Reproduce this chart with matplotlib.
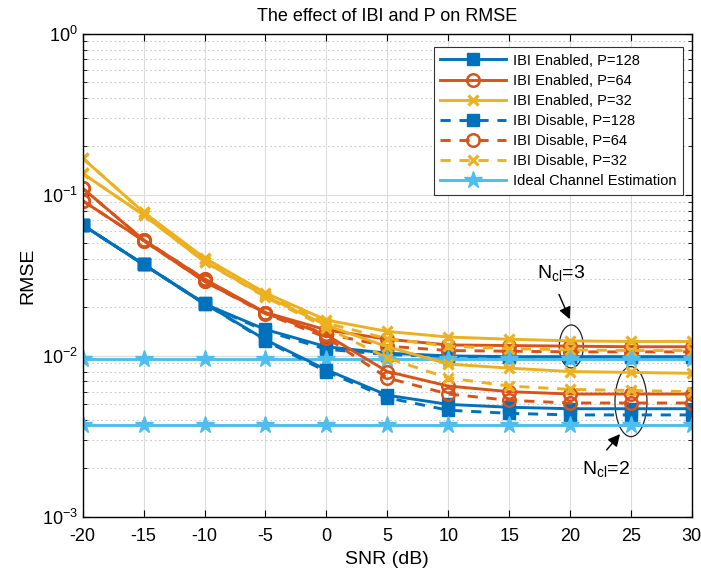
import numpy as np
import matplotlib.pyplot as plt
from matplotlib.patches import Ellipse

plt.rcParams['font.family'] = ['Liberation Sans', 'DejaVu Sans']
plt.rcParams['mathtext.fontset'] = 'custom'
plt.rcParams['mathtext.rm'] = 'Liberation Sans'
plt.rcParams['mathtext.it'] = 'Liberation Sans:italic'

snr = [-20, -15, -10, -5, 0, 5, 10, 15, 20, 25, 30]

# N_cl = 3
en128_3 = [0.065, 0.037, 0.021, 0.0146, 0.0114, 0.0104, 0.0100, 0.0099, 0.0099, 0.0099, 0.0099]
en64_3 = [0.110, 0.0525, 0.030, 0.0186, 0.0145, 0.0127, 0.0117, 0.0116, 0.0115, 0.0114, 0.0114]
en32_3 = [0.169, 0.078, 0.0406, 0.0246, 0.0167, 0.0142, 0.0131, 0.0127, 0.0124, 0.0123, 0.0123]
dis128_3 = [0.065, 0.037, 0.021, 0.0143, 0.0110, 0.0102, 0.0099, 0.0098, 0.0098, 0.0098, 0.0098]
dis64_3 = [0.110, 0.0525, 0.030, 0.0184, 0.0137, 0.0115, 0.0108, 0.0107, 0.0106, 0.0106, 0.0106]
dis32_3 = [0.169, 0.078, 0.0400, 0.0240, 0.0160, 0.0128, 0.0115, 0.0111, 0.0109, 0.0108, 0.0108]
ideal_3 = [0.0096] * 11

# N_cl = 2
en128_2 = [0.065, 0.037, 0.0212, 0.0126, 0.0082, 0.0057, 0.0050, 0.0048, 0.0047, 0.0047, 0.0047]
en64_2 = [0.092, 0.052, 0.029, 0.0185, 0.0135, 0.0080, 0.0065, 0.0060, 0.0058, 0.0058, 0.0058]
en32_2 = [0.136, 0.075, 0.0385, 0.0235, 0.0155, 0.0114, 0.0089, 0.0084, 0.0080, 0.0079, 0.0078]
dis128_2 = [0.065, 0.037, 0.0212, 0.0124, 0.0080, 0.0055, 0.0046, 0.0044, 0.0043, 0.0043, 0.0043]
dis64_2 = [0.092, 0.052, 0.029, 0.0183, 0.0130, 0.0073, 0.0058, 0.0053, 0.0051, 0.0051, 0.0051]
dis32_2 = [0.136, 0.075, 0.0385, 0.0232, 0.0150, 0.0097, 0.0073, 0.0065, 0.0062, 0.0061, 0.0060]
ideal_2 = [0.0037] * 11

labels = ['IBI Enabled, P=128', 'IBI Enabled, P=64', 'IBI Enabled, P=32',
          'IBI Disable, P=128', 'IBI Disable, P=64', 'IBI Disable, P=32',
          'Ideal Channel Estimation']

blue = '#0072BD'
orange = '#D95319'
yellow = '#EDB120'
cyan = '#4DBEEE'
dash = (0, (3.5, 3))

styles = [
    dict(color=blue, ls='-', marker='s', ms=8, mfc=blue),
    dict(color=orange, ls='-', marker='o', ms=9, mfc='none', mew=1.8),
    dict(color=yellow, ls='-', marker='x', ms=7, mew=2.3),
    dict(color=blue, ls=dash, marker='s', ms=8, mfc=blue),
    dict(color=orange, ls=dash, marker='o', ms=9, mfc='none', mew=1.8),
    dict(color=yellow, ls=dash, marker='x', ms=7, mew=2.3),
    dict(color=cyan, ls='-', marker='*', ms=13, mfc=cyan),
]

fig = plt.figure(figsize=(7.01, 5.75), dpi=100)
ax = fig.add_axes([0.118, 0.101, 0.869, 0.840])

set3 = [en128_3, en64_3, en32_3, dis128_3, dis64_3, dis32_3, ideal_3]
set2 = [en128_2, en64_2, en32_2, dis128_2, dis64_2, dis32_2, ideal_2]

for vals, lab, st in zip(set3, labels, styles):
    ax.plot(snr, vals, lw=2.1, label=lab, **st)
for vals, st in zip(set2, styles):
    ax.plot(snr, vals, lw=2.1, **st)

ax.set_yscale('log')
ax.set_xlim(-20, 30)
ax.set_ylim(1e-3, 1)
ax.set_xticks(snr)
ax.set_xticklabels([str(s) for s in snr])

ax.grid(True, which='major', color='#dcdcdc', lw=0.8, ls='-')
ax.grid(True, which='minor', axis='y', color='#c8c8c8', lw=0.8, ls=(0, (1.5, 2.5)))
ax.set_axisbelow(True)
ax.tick_params(which='both', direction='in', top=True, right=True, labelsize=13)
ax.tick_params(axis='x', pad=8)
ax.tick_params(which='minor', length=3)
ax.tick_params(which='major', length=5)
for sp in ax.spines.values():
    sp.set_linewidth(1.0)

ax.set_xlabel('SNR (dB)', fontsize=14, labelpad=4)
ax.set_ylabel('RMSE', fontsize=14)
ax.set_title('The effect of IBI and P on RMSE', fontsize=13, pad=9)

leg = ax.legend(loc='upper right', bbox_to_anchor=(0.998, 0.988), fontsize=10.5,
                handlelength=4.5, fancybox=False, edgecolor='#333333',
                framealpha=1, borderpad=0.45, labelspacing=0.42, handletextpad=0.5)
leg.get_frame().set_linewidth(0.8)

# ellipses marking the two groups (in axes fraction)
lx0, lx1 = -20, 30
ly0, ly1 = -3, 0
def frac(x, y):
    return (x - lx0) / (lx1 - lx0), (np.log10(y) - ly0) / (ly1 - ly0)

c3 = frac(20.1, 0.01145)
c2 = frac(25.0, 0.0052)
ax.add_patch(Ellipse(c3, 0.0394, 0.089, transform=ax.transAxes, fill=False,
                     ec='#222222', lw=0.9))
ax.add_patch(Ellipse(c2, 0.0525, 0.145, transform=ax.transAxes, fill=False,
                     ec='#222222', lw=0.9))

arrow = dict(arrowstyle='-|>', color='black', lw=1.0, mutation_scale=18)
ax.annotate('', xy=(20.07, 0.0163), xytext=(19.0, 0.025), arrowprops=arrow)
ax.annotate('', xy=(24.25, 0.00337), xytext=(22.86, 0.00253), arrowprops=arrow)
ax.text(19.25, 0.0328, r'N$_{\rm cl}$=3', fontsize=14, ha='center', va='center')
ax.text(22.94, 0.00199, r'N$_{\rm cl}$=2', fontsize=14, ha='center', va='center')

fig.savefig('out.png', dpi=100)
